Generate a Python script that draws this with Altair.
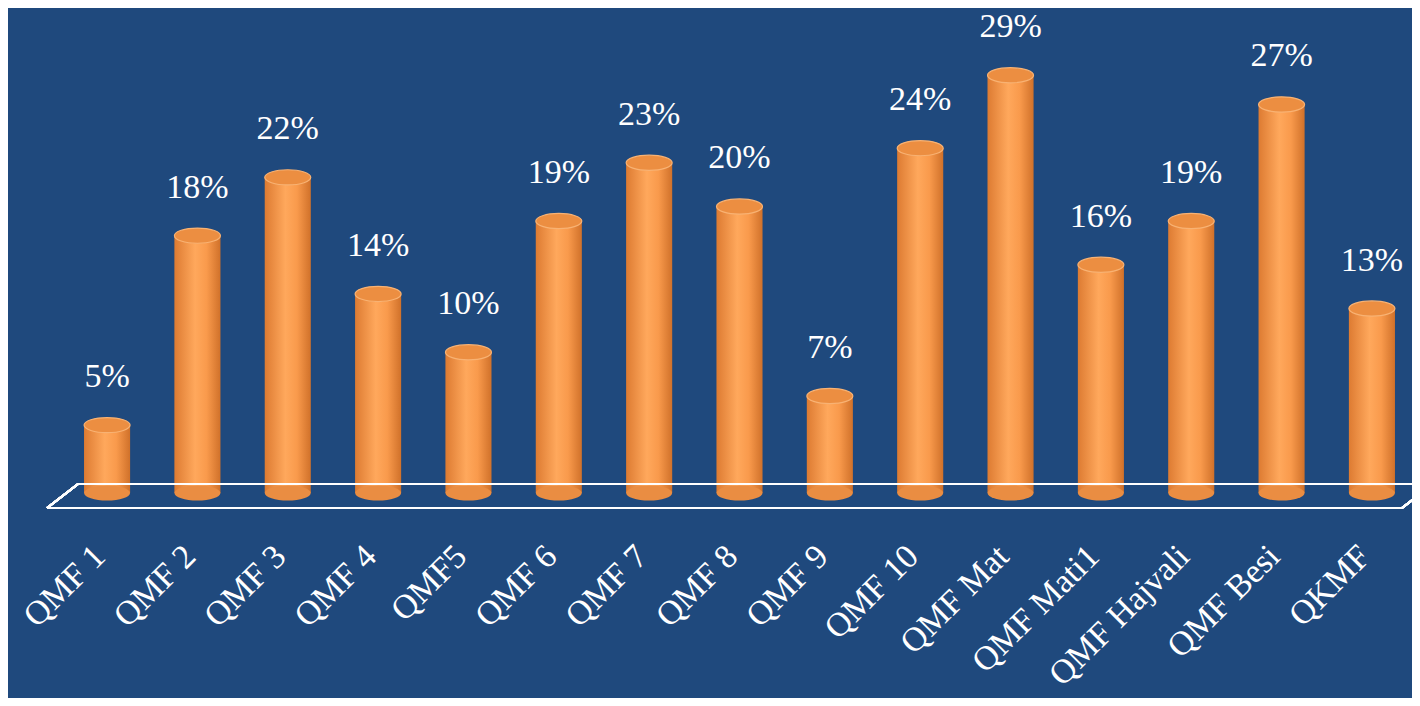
import altair as alt
import pandas as pd

categories = ["QMF 1", "QMF 2", "QMF 3", "QMF 4", "QMF5", "QMF 6", "QMF 7", "QMF 8",
              "QMF 9", "QMF 10", "QMF Mat", "QMF Mati1", "QMF Hajvali", "QMF Besi", "QKMF"]
values = [5, 18, 22, 14, 10, 19, 23, 20, 7, 24, 29, 16, 19, 27, 13]

df = pd.DataFrame({"cat": categories, "val": values,
                   "zero": [0] * len(values),
                   "label": [f"{v}%" for v in values]})

BG = "#1F497D"
ELLIPSE = ("M -1 0 C -1 -0.182 -0.552 -0.33 0 -0.33 C 0.552 -0.33 1 -0.182 1 0 "
           "C 1 0.182 0.552 0.33 0 0.33 C -0.552 0.33 -1 0.182 -1 0 Z")
BAR_W = 46

side_grad = alt.Gradient(
    gradient="linear", x1=0, x2=1, y1=0, y2=0,
    stops=[alt.GradientStop(offset=0, color="#DD7B32"),
           alt.GradientStop(offset=0.45, color="#FFA85C"),
           alt.GradientStop(offset=0.7, color="#F99A4C"),
           alt.GradientStop(offset=1, color="#D0712A")])

x_scale = alt.Scale(domain=categories, paddingInner=0.49, paddingOuter=0.1)
x_enc = alt.X("cat:N", scale=x_scale,
              axis=alt.Axis(title=None, labelAngle=-45, labelAlign="right",
                            labelBaseline="middle", labelPadding=53, labelOffset=-7,
                            labelFont="Liberation Serif", labelFontSize=34,
                            labelLimit=400,
                            labelColor="white", domain=False, ticks=False,
                            grid=False, labelOverlap=False))
y_scale = alt.Scale(domain=[0, 33])
y_enc = alt.Y("val:Q", scale=y_scale, axis=None)
y_zero = alt.Y("zero:Q", scale=y_scale, axis=None)

base = alt.Chart(df)

bars = base.mark_bar(color=side_grad, y2Offset=-5).encode(
    x=x_enc, y=y_enc, y2="zero:Q")

front = base.mark_rule(color="white", strokeWidth=2, yOffset=10).encode(
    x=alt.value(-28), x2=alt.value(1327), y=y_zero)
back = base.mark_rule(color="white", strokeWidth=2, yOffset=-14).encode(
    x=alt.value(3), x2=alt.value(1345), y=y_zero)
left_diag = base.mark_rule(color="white", strokeWidth=2, yOffset=10, y2Offset=-14).encode(
    x=alt.value(-28), x2=alt.value(3), y=y_zero, y2="zero:Q")
right_diag = base.mark_rule(color="white", strokeWidth=2, yOffset=10, y2Offset=-14).encode(
    x=alt.value(1327), x2=alt.value(1358), y=y_zero, y2="zero:Q")

bottom = base.mark_point(shape=ELLIPSE, size=BAR_W * BAR_W, filled=True,
                         fill="#EA8D42", strokeWidth=0, opacity=1, yOffset=-5).encode(
    x=x_enc, y=y_zero)

top = base.mark_point(shape=ELLIPSE, size=BAR_W * BAR_W, filled=True,
                      fill="#EC8E41", stroke="#F8B273", strokeWidth=1.2,
                      opacity=1).encode(x=x_enc, y=y_enc)

text = base.mark_text(font="Liberation Serif", fontSize=34, color="white",
                      dy=-48, baseline="middle").encode(
    x=x_enc, y=y_enc, text="label:N")

chart = alt.layer(bars, back, left_diag, right_diag, front, bottom, top, text).properties(
    width=1329, height=481,
    padding={"left": 67, "top": 9, "right": 8, "bottom": 200},
    autosize=alt.AutoSizeParams(type="none"),
    background=BG,
).configure_view(stroke=None)

chart.save("out.html", embed_options={"renderer": "svg", "actions": False})
